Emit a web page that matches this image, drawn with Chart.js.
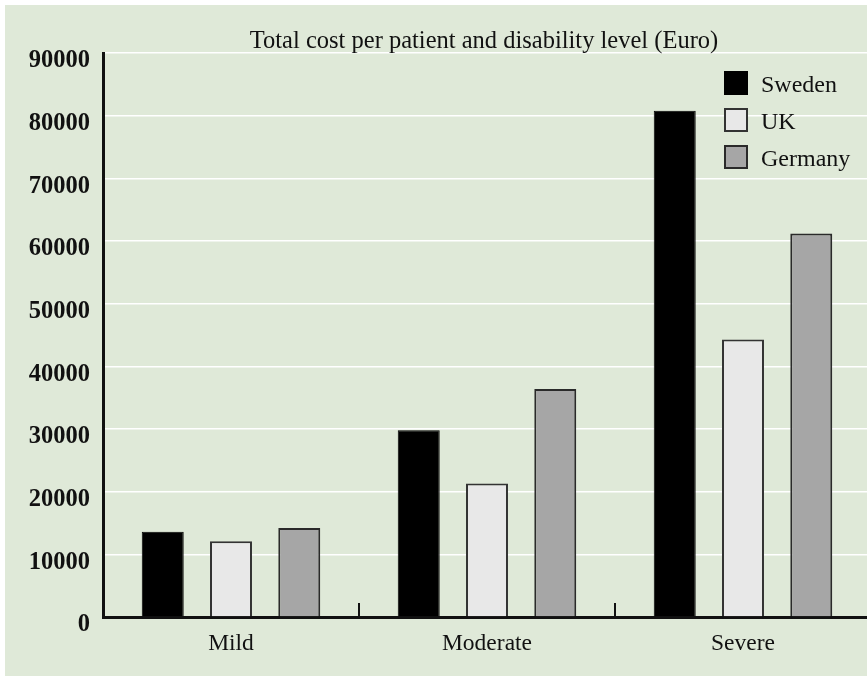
<!DOCTYPE html>
<html>
<head>
<meta charset="utf-8">
<title>Total cost per patient and disability level</title>
<script src="https://cdn.jsdelivr.net/npm/chart.js@4.4.1/dist/chart.umd.min.js"></script>
<style>
  html, body { margin: 0; padding: 0; background: #ffffff; overflow: hidden; width: 867px; height: 677px; }
  #panel { position: absolute; left: 5px; top: 5px; width: 870px; height: 671px; background: #dfe9d8; }
</style>
</head>
<body>
<div id="panel"><canvas id="chart" width="870" height="671"></canvas></div>
<script>
// Disability levels and total cost per patient (Euro)
const categories = ['Mild', 'Moderate', 'Severe'];
const seriesNames = ['Sweden', 'UK', 'Germany'];
const sweden = [13600, 29800, 80800];
const uk = [12100, 21300, 44300];
const germany = [14200, 36400, 61200];
const yTicks = [0, 10000, 20000, 30000, 40000, 50000, 60000, 70000, 80000, 90000];
const chartTitle = 'Total cost per patient and disability level (Euro)';

const SERIF = '"Liberation Serif", "Times New Roman", serif';

// Title, category separators and the legend box drawn on the canvas
const decorations = {
  id: 'decorations',
  afterDraw(chart) {
    const ctx = chart.ctx;
    const area = chart.chartArea;
    const x = chart.scales.x;
    ctx.save();

    // title centred over the plot area
    ctx.fillStyle = '#111111';
    ctx.font = '24.5px ' + SERIF;
    ctx.textAlign = 'center';
    ctx.textBaseline = 'alphabetic';
    ctx.fillText(chartTitle, (area.left + area.right) / 2 - 3, 42.7);

    // short upward tick marks between categories
    ctx.strokeStyle = '#111111';
    ctx.lineWidth = 2;
    for (let i = 0; i < categories.length - 1; i++) {
      const px = Math.round((x.getPixelForValue(i) + x.getPixelForValue(i + 1)) / 2);
      ctx.beginPath();
      ctx.moveTo(px, area.bottom);
      ctx.lineTo(px, area.bottom - 14);
      ctx.stroke();
    }

    // legend in the upper right of the plot
    const boxX = 719, boxSize = 24, rowGap = 37, firstTop = 66;
    chart.data.datasets.forEach((ds, i) => {
      const top = firstTop + i * rowGap;
      ctx.fillStyle = ds.backgroundColor;
      ctx.fillRect(boxX, top, boxSize, boxSize);
      ctx.strokeStyle = ds.borderColor;
      ctx.lineWidth = 2;
      ctx.strokeRect(boxX + 1, top + 1, boxSize - 2, boxSize - 2);
      ctx.fillStyle = '#111111';
      ctx.font = '24px ' + SERIF;
      ctx.textAlign = 'left';
      ctx.textBaseline = 'alphabetic';
      ctx.fillText(ds.label, boxX + 37, top + 20.7);
    });
    ctx.restore();
  }
};

new Chart(document.getElementById('chart'), {
  type: 'bar',
  data: {
    labels: categories,
    datasets: [
      { label: seriesNames[0], data: sweden, backgroundColor: '#000000', borderColor: '#000000', borderWidth: 1 },
      { label: seriesNames[1], data: uk, backgroundColor: '#e8e8e8', borderColor: '#333333', borderWidth: 2 },
      { label: seriesNames[2], data: germany, backgroundColor: '#a6a6a6', borderColor: '#2a2a2a', borderWidth: 2 }
    ]
  },
  options: {
    responsive: false,
    animation: false,
    devicePixelRatio: 1,
    layout: { padding: { top: 48, left: 0, right: 4, bottom: 0 } },
    datasets: { bar: { barPercentage: 0.615, categoryPercentage: 0.8, borderSkipped: 'bottom' } },
    plugins: {
      legend: { display: false },
      title: { display: false },
      tooltip: { enabled: false }
    },
    scales: {
      x: {
        grid: { display: false },
        border: { display: true, color: '#111111', width: 3 },
        ticks: { color: '#111111', font: { family: SERIF, size: 23.5 }, padding: 5 },
        afterFit(scale) { scale.height = 59; }
      },
      y: {
        min: 0,
        max: 90000,
        afterBuildTicks(scale) { scale.ticks = yTicks.map(v => ({ value: v })); },
        grid: { color: '#ffffff', lineWidth: 1.5, drawTicks: false },
        border: { display: true, color: '#111111', width: 3 },
        ticks: {
          color: '#111111',
          font: { family: SERIF, size: 24.5, weight: 'bold' },
          padding: 13,
          labelOffset: 8,
          callback: v => String(v)
        },
        afterFit(scale) { scale.width = 98; }
      }
    }
  },
  plugins: [decorations]
});
</script>
</body>
</html>
